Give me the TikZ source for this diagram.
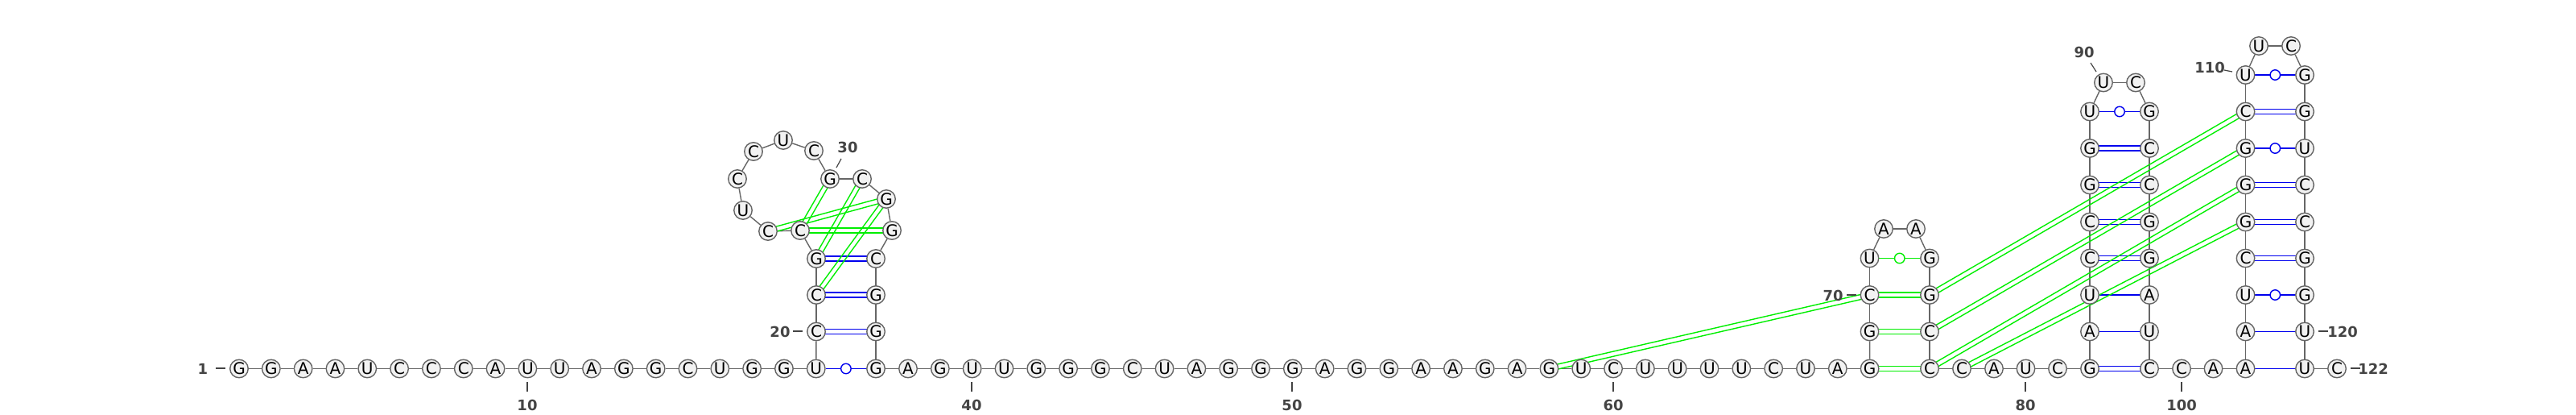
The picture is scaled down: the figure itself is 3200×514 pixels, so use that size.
\documentclass[tikz,border=0pt]{standalone}
\usepackage{fontspec}
\setmainfont{DejaVu Sans}
\usetikzlibrary{calc,backgrounds}
\definecolor{nodefill}{HTML}{F2F2F2}
\definecolor{nodeline}{HTML}{666666}
\definecolor{labeltext}{HTML}{444444}
\definecolor{bondgreen}{HTML}{00EE00}
\definecolor{bondblue}{HTML}{0000EE}
\tikzset{
  nt/.style={circle,draw=nodeline,fill=nodefill,line width=1.4pt,minimum size=22.5pt,inner sep=0pt,
    font=\fontsize{20}{24}\selectfont,text=black},
  backbone/.style={draw=nodeline,line width=1.4pt},
  bond/.style={line width=1.4pt},
  wobblemark/.style={circle,fill=white,line width=1.4pt,minimum size=12.5pt,inner sep=0pt},
  ticklabel/.style={font=\fontsize{18}{21}\selectfont\bfseries,text=labeltext,inner sep=0pt},
  tickline/.style={draw=labeltext,line width=1.2pt},
}
% double bond between two named nodes
\newcommand{\dblbond}[3]{%
  \draw[bond,#1] ($(n#2)!3pt!90:(n#3)$) -- ($(n#3)!3pt!-90:(n#2)$);
  \draw[bond,#1] ($(n#2)!3pt!-90:(n#3)$) -- ($(n#3)!3pt!90:(n#2)$);}
\newcommand{\sglbond}[3]{\draw[bond,#1] (n#2) -- (n#3);}
\newcommand{\wobble}[3]{%
  \draw[bond,#1] (n#2) -- (n#3);
  \node[wobblemark,draw=#1] (w#2) at ($(n#2)!0.5!(n#3)$) {};}
% position tick: start, end, label position, label
\newcommand{\postick}[5]{%
  \coordinate (ta#1) at (#2);
  \coordinate (tb#1) at (#3);
  \draw[tickline] (ta#1) -- (tb#1);
  \node[ticklabel] (lab#1) at (#4) {#5};}
\begin{document}
\begin{tikzpicture}[x=1pt,y=-1pt]
\useasboundingbox (0,0) rectangle (3200,514);
% nucleotides 1-19 on the baseline
\foreach \b [count=\c from 1] in {G,G,A,A,U,C,C,C,A,U,U,A,G,G,C,U,G,G,U}
  \node[nt] (n\c) at ({297+39.82*(\c-1)},457.5) {\b};
% first stem and loop
\foreach \i/\x/\y/\b in {20/1014/411.5/C,21/1014/366/C,22/1014/321/G,23/994/286/C,24/954/287/C,
  25/923/261/U,26/916/222/C,27/936/188/C,28/973/174/U,29/1011/187/C,30/1031/222/G,31/1071/222/C,
  32/1101/247/G,33/1108/286/G,34/1088/321/C,35/1088/366/G,36/1088/411.5/G,37/1088/457.5/G}
  \node[nt] (n\i) at (\x,\y) {\b};
% baseline 38-68
\foreach \b [count=\c from 38] in {A,G,U,U,G,G,G,C,U,A,G,G,G,A,G,G,A,A,G,A,G,U,C,U,U,U,U,C,U,A,G}
  \node[nt] (n\c) at ({1128+39.82*(\c-38)},457.5) {\b};
% second hairpin and onwards
\foreach \i/\x/\y/\b in {69/2322.5/411.5/G,70/2322.5/366/C,71/2322.5/320.5/U,72/2340/284/A,73/2380/284/A,
  74/2397/320.5/G,75/2397/366/G,76/2397/411.5/C,77/2397/457.5/C,78/2437/457.5/C,79/2477/457.5/A,
  80/2516.5/457.5/U,81/2556/457.5/C,
  82/2596/457.5/G,83/2596/411.5/A,84/2596/366/U,85/2596/320.5/C,86/2596/275.5/C,87/2596/229.5/G,
  88/2596/184/G,89/2596/138.5/U,90/2613/102.5/U,91/2653/102.5/C,92/2670/138.5/G,93/2670/184/C,
  94/2670/229.5/C,95/2670/275.5/G,96/2670/320.5/G,97/2670/366/A,98/2670/411.5/U,99/2670/457.5/C,
  100/2710/457.5/C,101/2749.5/457.5/A,
  102/2789.5/457.5/A,103/2789.5/411.5/A,104/2789.5/366/U,105/2789.5/320.5/C,106/2789.5/275.5/G,
  107/2789.5/229.5/G,108/2789.5/184/G,109/2789.5/138.5/C,110/2789.5/93/U,111/2806/57/U,112/2846/57/C,
  113/2863/93/G,114/2863/138.5/G,115/2863/184/U,116/2863/229.5/C,117/2863/275.5/C,118/2863/320.5/G,
  119/2863/366/G,120/2863/411.5/U,121/2863/457.5/U,122/2903/457.5/C}
  \node[nt] (n\i) at (\x,\y) {\b};
\begin{scope}[on background layer]
  \foreach \i [evaluate=\i as \j using int(\i+1)] in {1,...,121}
    \draw[backbone] (n\i) -- (n\j);
  % canonical stems
  \wobble{bondblue}{19}{37}
  \dblbond{bondblue}{20}{36}
  \dblbond{bondblue}{21}{35}
  \dblbond{bondblue}{22}{34}
  \dblbond{bondblue}{82}{99}
  \sglbond{bondblue}{83}{98}
  \sglbond{bondblue}{84}{97}
  \dblbond{bondblue}{85}{96}
  \dblbond{bondblue}{86}{95}
  \dblbond{bondblue}{87}{94}
  \dblbond{bondblue}{88}{93}
  \wobble{bondblue}{89}{92}
  \sglbond{bondblue}{102}{121}
  \sglbond{bondblue}{103}{120}
  \wobble{bondblue}{104}{119}
  \dblbond{bondblue}{105}{118}
  \dblbond{bondblue}{106}{117}
  \dblbond{bondblue}{107}{116}
  \wobble{bondblue}{108}{115}
  \dblbond{bondblue}{109}{114}
  \wobble{bondblue}{110}{113}
  % green pairs
  \dblbond{bondgreen}{24}{32}
  \dblbond{bondgreen}{23}{30}
  \dblbond{bondgreen}{23}{33}
  \dblbond{bondgreen}{22}{31}
  \dblbond{bondgreen}{21}{32}
  \dblbond{bondgreen}{58}{70}
  \dblbond{bondgreen}{68}{77}
  \dblbond{bondgreen}{69}{76}
  \dblbond{bondgreen}{70}{75}
  \wobble{bondgreen}{71}{74}
  \dblbond{bondgreen}{75}{109}
  \dblbond{bondgreen}{76}{108}
  \dblbond{bondgreen}{77}{107}
  \dblbond{bondgreen}{78}{106}
\end{scope}
% position labels
\postick{1}{268,457}{280,457}{252,458}{1}
\postick{10}{655,474}{655,486}{655,503}{10}
\postick{20}{985,411}{997,411}{969,412}{20}
\postick{30}{1039,208}{1045,197}{1053,183}{30}
\postick{40}{1207,474}{1207,486}{1207,503}{40}
\postick{50}{1605,474}{1605,486}{1605,503}{50}
\postick{60}{2004,474}{2004,486}{2004,503}{60}
\postick{70}{2294,366}{2306,366}{2277,367}{70}
\postick{80}{2516,474}{2516,486}{2516,503}{80}
\postick{90}{2597,78}{2604,89}{2589,65}{90}
\postick{100}{2710,474}{2710,486}{2710,503}{100}
\postick{110}{2763,87}{2773,89}{2745,84}{110}
\postick{120}{2880,411}{2892,411}{2910,412}{120}
\postick{122}{2920,457}{2932,457}{2948,458}{122}
\end{tikzpicture}
\end{document}
